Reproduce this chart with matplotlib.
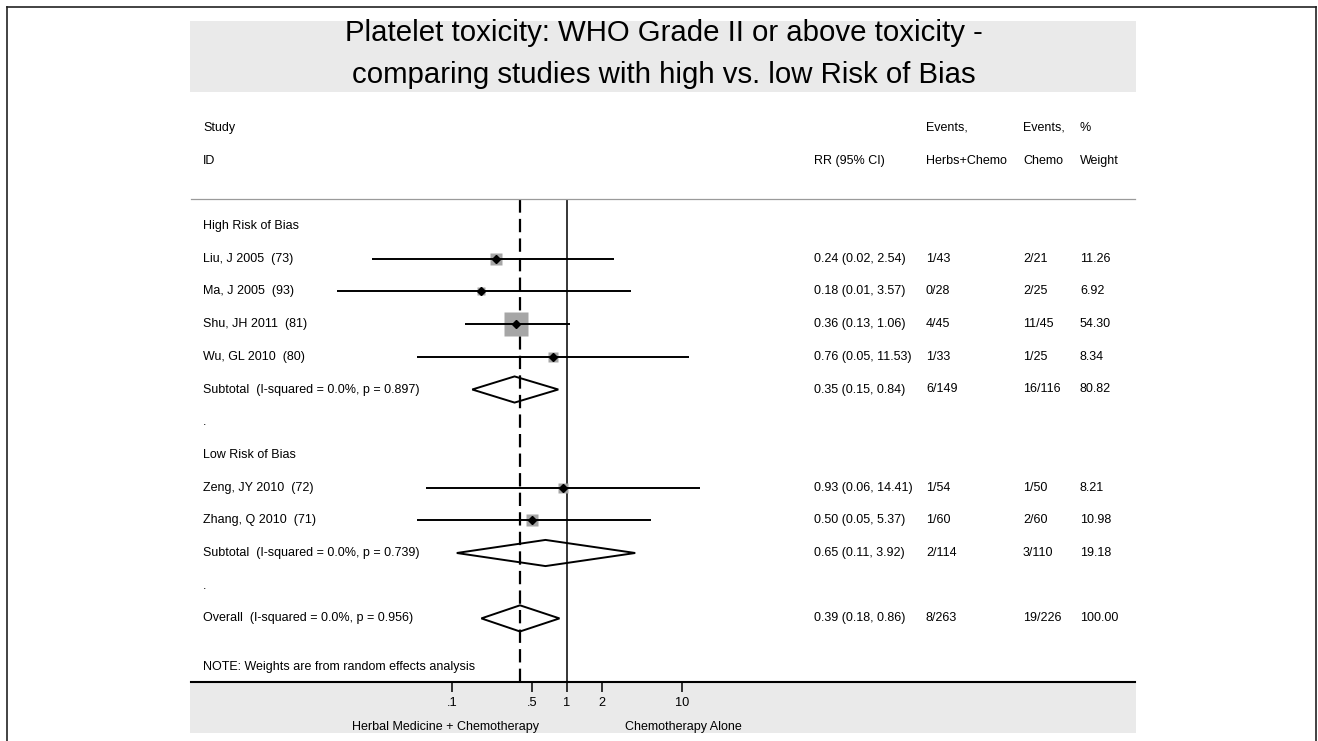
import numpy as np
import matplotlib
matplotlib.use('Agg')
import matplotlib.pyplot as plt
import matplotlib.transforms as mtransforms
from matplotlib.lines import Line2D
from matplotlib.patches import Rectangle, Polygon

plt.rcParams['font.family'] = ['Liberation Sans', 'DejaVu Sans']

# data
title_lines = ['Platelet toxicity: WHO Grade II or above toxicity -',
               'comparing studies with high vs. low Risk of Bias']

high_studies = ['Liu, J 2005  (73)', 'Ma, J 2005  (93)', 'Shu, JH 2011  (81)', 'Wu, GL 2010  (80)']
high_rr = [0.24, 0.18, 0.36, 0.76]
high_lo = [0.02, 0.01, 0.13, 0.05]
high_hi = [2.54, 3.57, 1.06, 11.53]
high_ev_herbs = ['1/43', '0/28', '4/45', '1/33']
high_ev_chemo = ['2/21', '2/25', '11/45', '1/25']
high_weight = [11.26, 6.92, 54.30, 8.34]

low_studies = ['Zeng, JY 2010  (72)', 'Zhang, Q 2010  (71)']
low_rr = [0.93, 0.50]
low_lo = [0.06, 0.05]
low_hi = [14.41, 5.37]
low_ev_herbs = ['1/54', '1/60']
low_ev_chemo = ['1/50', '2/60']
low_weight = [8.21, 10.98]

# subtotal / overall: label, rr, lo, hi, herbs, chemo, weight
sub_high = ('Subtotal  (I-squared = 0.0%, p = 0.897)', 0.35, 0.15, 0.84, '6/149', '16/116', 80.82)
sub_low = ('Subtotal  (I-squared = 0.0%, p = 0.739)', 0.65, 0.11, 3.92, '2/114', '3/110', 19.18)
overall = ('Overall  (I-squared = 0.0%, p = 0.956)', 0.39, 0.18, 0.86, '8/263', '19/226', 100.00)

tick_vals = [0.1, 0.5, 1, 2, 10]
tick_labels = ['.1', '.5', '1', '2', '10']

W, H = 1318, 741
fig = plt.figure(figsize=(W / 100, H / 100), dpi=100)
fig.patch.set_facecolor('white')


def fx(px):
    return px / W


def fy(py):
    return 1 - py / H


# grey panels (title band and axis band)
fig.add_artist(Rectangle((fx(190), fy(92)), fx(1136) - fx(190), fy(21) - fy(92),
                         transform=fig.transFigure, color='#eaeaea', lw=0, zorder=0))
fig.add_artist(Rectangle((fx(190), fy(733)), fx(1136) - fx(190), fy(682) - fy(733),
                         transform=fig.transFigure, color='#eaeaea', lw=0, zorder=0))

# outer frame
for xs, ys in [([7, 7], [7, 745]), ([7, 1316], [7, 7]), ([1316, 1316], [7, 745])]:
    fig.add_artist(Line2D([fx(x) for x in xs], [fy(y) for y in ys], transform=fig.transFigure,
                          color='#222222', lw=1.2))

fig.text(fx(664), fy(41), title_lines[0], ha='center', va='baseline', fontsize=21.2)
fig.text(fx(664), fy(83), title_lines[1], ha='center', va='baseline', fontsize=21.2)

ax_left, ax_right, ax_top, ax_bottom = 191, 1135, 199, 682
ax = fig.add_axes([fx(ax_left), fy(ax_bottom), fx(ax_right) - fx(ax_left), fy(ax_top) - fy(ax_bottom)])
ax.patch.set_alpha(0)
ax.set_xscale('log')
one_px, decade = 567, 115.0
ax.set_xlim(10 ** ((ax_left - one_px) / decade), 10 ** ((ax_right - one_px) / decade))
row_h = 32.7
ax.set_ylim((ax_bottom - 226) / row_h, (ax_top - 226) / row_h)

for s in ['left', 'right']:
    ax.spines[s].set_visible(False)
ax.spines['top'].set_color('#9a9a9a')
ax.spines['top'].set_linewidth(0.9)
ax.spines['bottom'].set_linewidth(1.5)
ax.set_yticks([])
ax.set_xticks(tick_vals)
ax.set_xticklabels(tick_labels)
ax.xaxis.set_minor_locator(matplotlib.ticker.NullLocator())
ax.tick_params(axis='x', direction='out', length=7, width=1.1, pad=4, labelsize=9.2)

tr = mtransforms.blended_transform_factory(fig.transFigure, ax.transData)
col_label, col_rr, col_herbs, col_chemo, col_w = fx(203), fx(814), fx(926), fx(1023), fx(1080)
fs = 9

# header
for x, top, bottom in [(col_label, 'Study', 'ID'), (col_rr, '', 'RR (95% CI)'),
                       (col_herbs, 'Events,', 'Herbs+Chemo'), (col_chemo, 'Events,', 'Chemo'),
                       (col_w, '%', 'Weight')]:
    ax.text(x, -3, top, transform=tr, fontsize=fs, va='center', clip_on=False)
    ax.text(x, -2, bottom, transform=tr, fontsize=fs, va='center', clip_on=False)

ax.axvline(1, color='black', lw=1.1, zorder=1)
ax.axvline(overall[1], color='black', lw=1.6, ls=(0, (6.0, 2.8)), zorder=1)


def draw_study(y, name, rr, lo, hi, eh, ec, w):
    ax.text(col_label, y, name, transform=tr, fontsize=fs, va='center')
    side = 3.39 * np.sqrt(w) * 0.72
    ax.plot([rr], [y], marker='s', ms=side, color='#a6a6a6', mec='none', zorder=2)
    ax.plot([lo, hi], [y, y], color='black', lw=1.4, zorder=3, solid_capstyle='butt')
    ax.plot([rr], [y], marker='D', ms=4, color='black', zorder=4)
    ax.text(col_rr, y, f'{rr:.2f} ({lo:.2f}, {hi:.2f})', transform=tr, fontsize=fs, va='center')
    ax.text(col_herbs, y, eh, transform=tr, fontsize=fs, va='center')
    ax.text(col_chemo, y, ec, transform=tr, fontsize=fs, va='center')
    ax.text(col_w, y, f'{w:.2f}', transform=tr, fontsize=fs, va='center')


def draw_pooled(y, row):
    name, rr, lo, hi, eh, ec, w = row
    ax.text(col_label, y, name, transform=tr, fontsize=fs, va='center')
    hh = 0.4
    ax.add_patch(Polygon([(lo, y), (rr, y - hh), (hi, y), (rr, y + hh)], closed=True,
                         fill=False, ec='black', lw=1.4, zorder=3))
    ax.text(col_rr, y, f'{rr:.2f} ({lo:.2f}, {hi:.2f})', transform=tr, fontsize=fs, va='center')
    ax.text(col_herbs, y, eh, transform=tr, fontsize=fs, va='center')
    ax.text(col_chemo, y, ec, transform=tr, fontsize=fs, va='center')
    ax.text(col_w, y, f'{w:.2f}', transform=tr, fontsize=fs, va='center')


row = 0
ax.text(col_label, row, 'High Risk of Bias', transform=tr, fontsize=fs, va='center')
for i in range(len(high_studies)):
    row += 1
    draw_study(row, high_studies[i], high_rr[i], high_lo[i], high_hi[i],
               high_ev_herbs[i], high_ev_chemo[i], high_weight[i])
row += 1
draw_pooled(row, sub_high)
row += 1
ax.text(col_label, row, '.', transform=tr, fontsize=fs, va='center')
row += 1
ax.text(col_label, row, 'Low Risk of Bias', transform=tr, fontsize=fs, va='center')
for i in range(len(low_studies)):
    row += 1
    draw_study(row, low_studies[i], low_rr[i], low_lo[i], low_hi[i],
               low_ev_herbs[i], low_ev_chemo[i], low_weight[i])
row += 1
draw_pooled(row, sub_low)
row += 1
ax.text(col_label, row, '.', transform=tr, fontsize=fs, va='center')
row += 1
draw_pooled(row, overall)
ax.text(col_label, row + 1.5, 'NOTE: Weights are from random effects analysis',
        transform=tr, fontsize=fs, va='center')

fig.text(fx(446), fy(727), 'Herbal Medicine + Chemotherapy', ha='center', va='center', fontsize=fs)
fig.text(fx(683), fy(727), 'Chemotherapy Alone', ha='center', va='center', fontsize=fs)

fig.savefig('out.png', dpi=100)
